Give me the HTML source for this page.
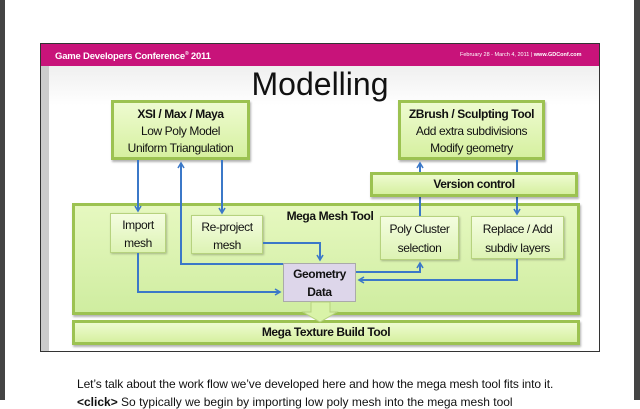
<!DOCTYPE html>
<html><head><style>
body{margin:0;width:640px;height:400px;overflow:hidden;background:#fff;font-family:"Liberation Sans",sans-serif;position:relative}
.b{position:absolute;box-sizing:border-box;text-align:center;color:#111;white-space:nowrap;letter-spacing:-0.4px}
.g{background:linear-gradient(#eefbd0,#d6f0a0);border:3px solid #9cc251;box-shadow:1px 2px 2px rgba(0,0,0,.3)}
.s{background:linear-gradient(#f4fde0,#ddf3b4);border:1px solid #b6d27e;box-shadow:1px 1px 2px rgba(0,0,0,.25)}
</style></head><body>
<div style="position:absolute;left:0;top:0;width:5px;height:400px;background:#444"></div>
<div style="position:absolute;right:0;top:0;width:6px;height:400px;background:#444"></div>
<div style="position:absolute;left:40px;top:43px;width:560px;height:309px;border:1px solid #333;box-sizing:border-box;background:linear-gradient(#e6e6e6,#fff 20%,#fff)"></div>
<div style="position:absolute;left:41px;top:44px;width:8px;height:307px;background:#ccc"></div>
<div style="position:absolute;left:41px;top:44px;width:558px;height:22px;background:#c8137a"></div>
<div style="position:absolute;left:55px;top:51px;color:#fff;font-size:9.5px;font-weight:bold;letter-spacing:-0.2px">Game Developers Conference<sup style="font-size:5px">®</sup> 2011</div>
<div style="position:absolute;left:460px;top:52px;color:#fff;font-size:5.5px">February 28 - March 4, 2011 | <b>www.GDConf.com</b></div>
<div style="position:absolute;left:0;width:640px;top:66px;text-align:center;font-size:32px;color:#111">Modelling</div>

<div class="b g" style="left:111px;top:100px;width:139px;height:60px;font-size:12px;line-height:17px;padding-top:3px"><b>XSI / Max / Maya</b><br>Low Poly Model<br>Uniform Triangulation</div>
<div class="b g" style="left:398px;top:100px;width:147px;height:60px;font-size:12px;line-height:17px;padding-top:3px"><b>ZBrush / Sculpting Tool</b><br>Add extra subdivisions<br>Modify geometry</div>
<div class="b g" style="left:72px;top:203px;width:508px;height:112px;background:linear-gradient(#e6f8c0,#cfeda0)"></div>
<div class="b" style="left:275px;top:209px;width:110px;font-size:12px;font-weight:bold">Mega Mesh Tool</div>
<div class="b s" style="left:110px;top:213px;width:56px;height:40px;font-size:12px;line-height:18px;padding-top:2px">Import<br>mesh</div>
<div class="b s" style="left:191px;top:215px;width:72px;height:39px;font-size:12px;line-height:18px;padding-top:2px">Re-project<br>mesh</div>
<div class="b s" style="left:380px;top:216px;width:79px;height:44px;font-size:12px;line-height:19px;padding-top:3px">Poly Cluster<br>selection</div>
<div class="b s" style="left:471px;top:216px;width:93px;height:43px;font-size:12px;line-height:19px;padding-top:3px">Replace / Add<br>subdiv layers</div>
<div class="b" style="left:283px;top:263px;width:73px;height:39px;background:#ddd6ea;border:1px solid #aaa;font-size:12px;font-weight:bold;line-height:18px;padding-top:1px">Geometry<br>Data</div>
<div class="b g" style="left:72px;top:320px;width:508px;height:25px;font-size:12px;font-weight:bold;line-height:19px">Mega Texture Build Tool</div>

<svg width="640" height="400" style="position:absolute;left:0;top:0">
<defs><marker id="a" markerWidth="8" markerHeight="8" refX="6" refY="4" orient="auto" markerUnits="userSpaceOnUse"><path d="M1,1 L6,4 L1,7" fill="none" stroke="#3b78c8" stroke-width="1.6"/></marker></defs>
<g fill="none" stroke="#3b78c8" stroke-width="2">
<path d="M138,160 V211" marker-end="url(#a)"/>
<path d="M283,264 H181 V163" marker-end="url(#a)"/>
<path d="M222,160 V213" marker-end="url(#a)"/>
<path d="M263,243 H320 V260" marker-end="url(#a)"/>
<path d="M138,253 V292 H280" marker-end="url(#a)"/>
<path d="M356,272 H420 V263" marker-end="url(#a)"/>
<path d="M420,216 V163" marker-end="url(#a)"/>
<path d="M517,160 V214" marker-end="url(#a)"/>
<path d="M517,259 V280 H359" marker-end="url(#a)"/>
</g>
<path d="M311,302 H330 V312 H337 L320,322 L303,312 H311 Z" fill="#d9f3a8" stroke="#b6d27e"/>
</svg>
<div class="b g" style="left:370px;top:172px;width:208px;height:25px;font-size:12px;font-weight:bold;line-height:19px">Version control</div>
<div style="position:absolute;left:77px;top:377px;font-size:12px;color:#111;white-space:nowrap;letter-spacing:-0.1px">Let’s talk about the work flow we’ve developed here and how the mega mesh tool fits into it.</div>
<div style="position:absolute;left:77px;top:395px;font-size:12px;color:#111;white-space:nowrap"><b>&lt;click&gt;</b> So typically we begin by importing low poly mesh into the mega mesh tool</div>
</body></html>
